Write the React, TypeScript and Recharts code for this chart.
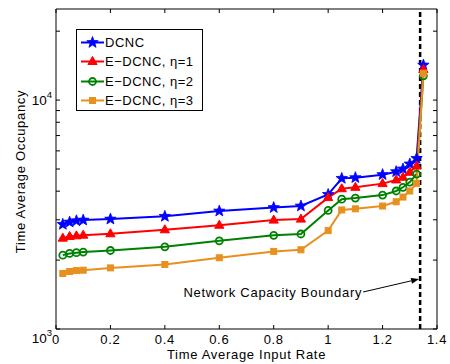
import React from 'react';
import { LineChart, Line, XAxis, YAxis, ReferenceLine, Legend } from 'recharts';

const rates = [0.025, 0.05, 0.075, 0.1, 0.2, 0.4, 0.6, 0.8, 0.9, 1.0, 1.05, 1.1, 1.2, 1.25, 1.275, 1.3, 1.325, 1.35];
const dcnc = [2865, 2930, 2970, 2990, 3020, 3105, 3275, 3391, 3445, 3870, 4550, 4582, 4724, 4867, 5000, 5260, 5560, 14220];
const edcnc1 = [2494, 2538, 2553, 2570, 2606, 2713, 2840, 2990, 3020, 3750, 4100, 4160, 4316, 4480, 4600, 4838, 5150, 13600];
const edcnc2 = [2102, 2139, 2155, 2167, 2203, 2285, 2427, 2565, 2600, 3295, 3690, 3733, 3845, 4008, 4160, 4385, 4750, 12770];
const edcnc3 = [1748, 1783, 1800, 1807, 1849, 1913, 2047, 2183, 2218, 2690, 3311, 3350, 3445, 3596, 3770, 4008, 4330, 13100];

const xTicks = [0, 0.2, 0.4, 0.6, 0.8, 1, 1.2, 1.4];
const yTicks = [1000, 2000, 3000, 4000, 5000, 6000, 7000, 8000, 9000, 10000, 20000];
const yMajor = [1000, 10000];
const yDomain = [1000, 25000];
const boundary = 1.338;
const boundaryLabel = 'Network Capacity Boundary';
const xLabel = 'Time Average Input Rate';
const yLabel = 'Time Average Occupancy';

const seriesNames = ['DCNC', 'E\u2212DCNC, \u03b7=1', 'E\u2212DCNC, \u03b7=2', 'E\u2212DCNC, \u03b7=3'];
const seriesKeys = ['dcnc', 'e1', 'e2', 'e3'];
const seriesColors = ['#0000ff', '#ff0000', '#008000', '#e8901e'];

const data = rates.map((r, i) => ({ rate: r, dcnc: dcnc[i], e1: edcnc1[i], e2: edcnc2[i], e3: edcnc3[i] }));

const FONT = 'Liberation Sans, Arial, Helvetica, sans-serif';
const FS = 13;
const LS = 0.7;
const TM = 6;
const TL = 4;

function starPoints(cx: number, cy: number, R: number) {
  const r = R * 0.42;
  const pts: string[] = [];
  for (let i = 0; i < 10; i++) {
    const a = -Math.PI / 2 + (i * Math.PI) / 5;
    const rad = i % 2 === 0 ? R : r;
    pts.push(`${cx + rad * Math.cos(a)},${cy + rad * Math.sin(a)}`);
  }
  return pts.join(' ');
}

function Marker({ k, cx, cy, color }: { k: string; cx: number; cy: number; color: string }) {
  if (k === 'dcnc') return <polygon points={starPoints(cx, cy, 6)} fill={color} stroke={color} strokeWidth={0.8} />;
  if (k === 'e1') return <polygon points={`${cx},${cy - 5} ${cx + 4.6},${cy + 3} ${cx - 4.6},${cy + 3}`} fill={color} stroke={color} strokeWidth={1} />;
  if (k === 'e2') return <circle cx={cx} cy={cy} r={3.5} fill="none" stroke={color} strokeWidth={1.8} />;
  return <rect x={cx - 3} y={cy - 3} width={6} height={6} fill={color} stroke={color} strokeWidth={1} />;
}

const makeDot = (k: string, color: string) => (p: any) => {
  if (p.cx == null || p.cy == null) return <g key={p.index} />;
  return <Marker key={p.index} k={k} cx={p.cx} cy={p.cy} color={color} />;
};

const LeftTick = (p: any) => {
  const ax = p.x + TM;
  const v = p.payload.value;
  const major = yMajor.includes(v);
  const exp = Math.round(Math.log10(v));
  return (
    <g>
      <line x1={ax} x2={ax + TL} y1={p.y} y2={p.y} stroke="#000" strokeWidth={1} />
      {major && (
        <text x={ax - 4} y={p.y + (v === 1000 ? 14 : 5)} textAnchor="end" fontFamily={FONT} fontSize={FS + 0.5} fill="#000">
          10<tspan dy={-7} fontSize={9.5}>{exp}</tspan>
        </text>
      )}
    </g>
  );
};

const RightTick = (p: any) => {
  const ax = p.x - TM;
  return <line x1={ax} x2={ax - TL} y1={p.y} y2={p.y} stroke="#000" strokeWidth={1} />;
};

const BottomTick = (p: any) => {
  const ay = p.y - TM;
  return (
    <g>
      <line x1={p.x} x2={p.x} y1={ay} y2={ay - TL} stroke="#000" strokeWidth={1} />
      <text x={p.x} y={ay + 15} textAnchor="middle" fontFamily={FONT} fontSize={FS} letterSpacing={LS} fill="#000">
        {String(p.payload.value)}
      </text>
    </g>
  );
};

const TopTick = (p: any) => {
  const ay = p.y + TM;
  return <line x1={p.x} x2={p.x} y1={ay} y2={ay + TL} stroke="#000" strokeWidth={1} />;
};

const XLabel = (p: any) => {
  const vb = p.viewBox;
  if (!vb) return null;
  return (
    <text x={vb.x + vb.width / 2} y={vb.y + 30.3} textAnchor="middle" fontFamily={FONT} fontSize={FS} letterSpacing={LS} fill="#000">
      {xLabel}
    </text>
  );
};

const YLabel = (p: any) => {
  const vb = p.viewBox;
  if (!vb) return null;
  const x = vb.x + 18.5;
  const y = vb.y + vb.height / 2 + 2.5;
  return (
    <text x={x} y={y} transform={`rotate(-90 ${x} ${y})`} textAnchor="middle" fontFamily={FONT} fontSize={FS} letterSpacing={LS} fill="#000">
      {yLabel}
    </text>
  );
};

const BoundaryLabel = (p: any) => {
  const vb = p.viewBox;
  if (!vb) return null;
  const x = vb.x;
  const ty = vb.y + vb.height - 37;
  const sx = x - 57;
  const ex = x - 1;
  const ey = ty - 13;
  const ang = Math.atan2(ey - ty, ex - sx);
  const hl = 8;
  const hw = 3;
  const bx = ex - hl * Math.cos(ang);
  const by = ey - hl * Math.sin(ang);
  const px = -Math.sin(ang) * hw;
  const py = Math.cos(ang) * hw;
  return (
    <g>
      <text x={x - 58} y={ty + 5} textAnchor="end" fontFamily={FONT} fontSize={FS} letterSpacing={LS} fill="#000">
        {boundaryLabel}
      </text>
      <line x1={sx} y1={ty} x2={bx} y2={by} stroke="#000" strokeWidth={1} />
      <polygon points={`${ex},${ey} ${bx + px},${by + py} ${bx - px},${by - py}`} fill="#000" />
    </g>
  );
};

const LegendBox = (props: any) => {
  const payload = props.payload || [];
  return (
    <div
      style={{
        border: '1px solid #000',
        background: '#fff',
        width: 127,
        height: 82,
        boxSizing: 'border-box',
        paddingTop: 3,
        fontFamily: FONT,
        fontSize: FS,
        letterSpacing: 0.5,
      }}
    >
      {payload.map((e: any, i: number) => {
        const k = e.dataKey as string;
        return (
          <div key={i} style={{ display: 'flex', alignItems: 'center', height: 19.3, lineHeight: '19px' }}>
            <svg width={28} height={19} style={{ flex: 'none' }}>
              <line x1={4} x2={27} y1={9.5} y2={9.5} stroke={e.color} strokeWidth={2} />
              <Marker k={k} cx={15.5} cy={9.5} color={e.color} />
            </svg>
            <span style={{ whiteSpace: 'nowrap', color: '#000' }}>{e.value}</span>
          </div>
        );
      })}
    </div>
  );
};

export default function App() {
  return (
    <div style={{ position: 'absolute', left: 0, top: 0, width: 450, height: 364, background: '#fff' }}>
      <LineChart width={450} height={364} data={data} margin={{ top: 8, right: 12, bottom: 5, left: 6 }}>
        <XAxis
          xAxisId="b"
          dataKey="rate"
          type="number"
          domain={[0, 1.4]}
          ticks={xTicks}
          allowDataOverflow
          height={30}
          tickSize={0}
          tickMargin={TM}
          tickLine={false}
          axisLine={{ stroke: '#000', strokeWidth: 1 }}
          tick={<BottomTick />}
          interval={0}
          label={<XLabel />}
        />
        <XAxis
          xAxisId="t"
          orientation="top"
          dataKey="rate"
          type="number"
          domain={[0, 1.4]}
          ticks={xTicks}
          allowDataOverflow
          height={1}
          tickSize={0}
          tickMargin={TM}
          tickLine={false}
          axisLine={{ stroke: '#000', strokeWidth: 1 }}
          tick={<TopTick />}
          interval={0}
        />
        <YAxis
          yAxisId="l"
          scale="log"
          type="number"
          domain={yDomain}
          ticks={yTicks}
          allowDataOverflow
          width={50}
          tickSize={0}
          tickMargin={TM}
          tickLine={false}
          axisLine={{ stroke: '#000', strokeWidth: 1 }}
          tick={<LeftTick />}
          interval={0}
          label={<YLabel />}
        />
        <YAxis
          yAxisId="r"
          orientation="right"
          scale="log"
          type="number"
          domain={yDomain}
          ticks={yTicks}
          allowDataOverflow
          width={1}
          tickSize={0}
          tickMargin={TM}
          tickLine={false}
          axisLine={{ stroke: '#000', strokeWidth: 1 }}
          tick={<RightTick />}
          interval={0}
        />
        <ReferenceLine
          xAxisId="b"
          yAxisId="l"
          x={boundary}
          stroke="#000"
          strokeWidth={2.5}
          strokeDasharray="5 3"
          label={<BoundaryLabel />}
        />
        {seriesKeys.map((k, i) => (
          <Line
            key={k}
            xAxisId="b"
            yAxisId="l"
            dataKey={k}
            name={seriesNames[i]}
            stroke={seriesColors[i]}
            strokeWidth={2}
            dot={makeDot(k, seriesColors[i])}
            activeDot={false}
            isAnimationActive={false}
          />
        ))}
        <Legend
          layout="vertical"
          align="center"
          verticalAlign="middle"
          content={<LegendBox />}
          wrapperStyle={{ position: 'absolute', left: 76, top: 29, width: 127, height: 82 }}
        />
      </LineChart>
    </div>
  );
}
